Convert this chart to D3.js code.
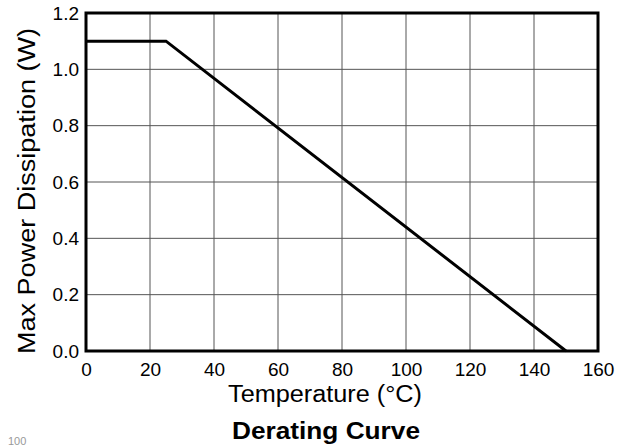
<!DOCTYPE html>
<html>
<head>
<meta charset="utf-8">
<script src="https://cdn.jsdelivr.net/npm/d3@7"></script>
<style>
  body { margin: 0; background: #fff; }
  text { font-family: "Liberation Sans", Arial, sans-serif; fill: #000; }
</style>
</head>
<body>
<script>
// derating curve: temperature (°C) vs max power (W)
const temps = [0, 25, 150];
const power = [1.1, 1.1, 0];
const xTicks = [0, 20, 40, 60, 80, 100, 120, 140, 160];
const yTicks = [0.0, 0.2, 0.4, 0.6, 0.8, 1.0, 1.2];

const svgWidth = 636, svgHeight = 446;
const margin = { top: 13, right: 38, bottom: 95, left: 86 };
const width = svgWidth - margin.left - margin.right;
const height = svgHeight - margin.top - margin.bottom;

const svg = d3.select("body")
  .append("svg")
  .attr("width", svgWidth)
  .attr("height", svgHeight);

const g = svg.append("g")
  .attr("transform", `translate(${margin.left},${margin.top})`);

const x = d3.scaleLinear().domain([0, 160]).range([0, width]);
const y = d3.scaleLinear().domain([0, 1.2]).range([height, 0]);

// grid
g.append("g")
  .selectAll("line")
  .data(xTicks.slice(1, -1))
  .join("line")
  .attr("x1", d => x(d)).attr("x2", d => x(d))
  .attr("y1", 0).attr("y2", height)
  .attr("stroke", "#555").attr("stroke-width", 1);

g.append("g")
  .selectAll("line")
  .data(yTicks.slice(1, -1))
  .join("line")
  .attr("y1", d => y(d)).attr("y2", d => y(d))
  .attr("x1", 0).attr("x2", width)
  .attr("stroke", "#555").attr("stroke-width", 1);

// axes (labels only)
const xAxis = g.append("g")
  .attr("transform", `translate(0,${height})`)
  .call(d3.axisBottom(x).tickValues(xTicks).tickSize(0).tickPadding(8).tickFormat(d3.format("d")));
const yAxis = g.append("g")
  .call(d3.axisLeft(y).tickValues(yTicks).tickSize(0).tickPadding(7).tickFormat(d3.format(".1f")));
[xAxis, yAxis].forEach(a => {
  a.select(".domain").remove();
  a.selectAll("text").attr("font-size", 19).attr("fill", "#111")
    .style("font-family", '"Liberation Sans", Arial, sans-serif');
});
xAxis.selectAll("text").attr("dy", "0.88em");

// frame
g.append("rect")
  .attr("width", width).attr("height", height)
  .attr("fill", "none").attr("stroke", "#000").attr("stroke-width", 3);

// curve
const line = d3.line().x((d, i) => x(temps[i])).y(d => y(d));
g.append("path")
  .datum(power)
  .attr("d", line)
  .attr("fill", "none")
  .attr("stroke", "#000")
  .attr("stroke-width", 3);

// titles
svg.append("text")
  .attr("x", 325).attr("y", 402)
  .attr("text-anchor", "middle")
  .attr("font-size", 23)
  .attr("textLength", 194).attr("lengthAdjust", "spacingAndGlyphs")
  .text("Temperature (°C)");

svg.append("text")
  .attr("transform", "translate(35,191) rotate(-90)")
  .attr("text-anchor", "middle")
  .attr("font-size", 23)
  .attr("textLength", 326).attr("lengthAdjust", "spacingAndGlyphs")
  .text("Max Power Dissipation (W)");

svg.append("text")
  .attr("x", 326).attr("y", 439)
  .attr("text-anchor", "middle")
  .attr("font-size", 23)
  .attr("font-weight", "bold")
  .attr("textLength", 188).attr("lengthAdjust", "spacingAndGlyphs")
  .text("Derating Curve");

svg.append("text")
  .attr("x", 8).attr("y", 445)
  .attr("font-size", 11)
  .style("fill", "#999")
  .text("100");
</script>
</body>
</html>
